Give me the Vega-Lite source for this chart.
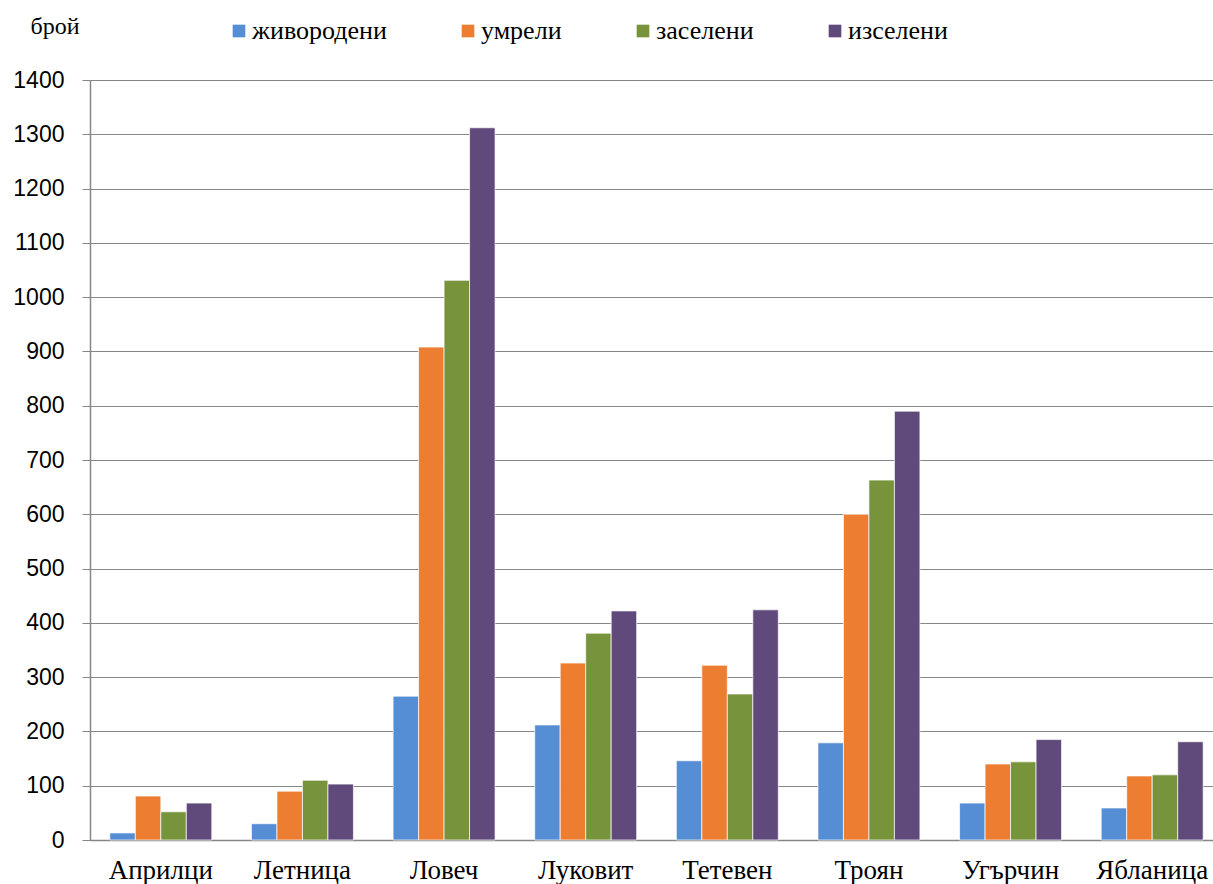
{
  "$schema": "https://vega.github.io/schema/vega-lite/v6.json",
  "width": 1123,
  "height": 760,
  "autosize": {"type": "none"},
  "padding": {"left": 90, "top": 80, "right": 0, "bottom": 44},
  "background": "white",
  "config": {"view": {"stroke": null}},
  "data": {
    "values": [
      {"town": "Априлци", "kind": "живородени", "n": 13},
      {"town": "Априлци", "kind": "умрели", "n": 81},
      {"town": "Априлци", "kind": "заселени", "n": 52},
      {"town": "Априлци", "kind": "изселени", "n": 68},
      {"town": "Летница", "kind": "живородени", "n": 30},
      {"town": "Летница", "kind": "умрели", "n": 90},
      {"town": "Летница", "kind": "заселени", "n": 110},
      {"town": "Летница", "kind": "изселени", "n": 103},
      {"town": "Ловеч", "kind": "живородени", "n": 265},
      {"town": "Ловеч", "kind": "умрели", "n": 908},
      {"town": "Ловеч", "kind": "заселени", "n": 1031},
      {"town": "Ловеч", "kind": "изселени", "n": 1312},
      {"town": "Луковит", "kind": "живородени", "n": 212},
      {"town": "Луковит", "kind": "умрели", "n": 326},
      {"town": "Луковит", "kind": "заселени", "n": 381},
      {"town": "Луковит", "kind": "изселени", "n": 422},
      {"town": "Тетевен", "kind": "живородени", "n": 146},
      {"town": "Тетевен", "kind": "умрели", "n": 322},
      {"town": "Тетевен", "kind": "заселени", "n": 269},
      {"town": "Тетевен", "kind": "изселени", "n": 424},
      {"town": "Троян", "kind": "живородени", "n": 179},
      {"town": "Троян", "kind": "умрели", "n": 600},
      {"town": "Троян", "kind": "заселени", "n": 663},
      {"town": "Троян", "kind": "изселени", "n": 790},
      {"town": "Угърчин", "kind": "живородени", "n": 68},
      {"town": "Угърчин", "kind": "умрели", "n": 140},
      {"town": "Угърчин", "kind": "заселени", "n": 144},
      {"town": "Угърчин", "kind": "изселени", "n": 185},
      {"town": "Ябланица", "kind": "живородени", "n": 59},
      {"town": "Ябланица", "kind": "умрели", "n": 118},
      {"town": "Ябланица", "kind": "заселени", "n": 120},
      {"town": "Ябланица", "kind": "изселени", "n": 181}
    ]
  },
  "mark": {"type": "bar", "stroke": "white", "strokeWidth": 0.7},
  "encoding": {
    "x": {
      "field": "town",
      "type": "nominal",
      "sort": null,
      "title": null,
      "scale": {"range": [0, 1133], "paddingInner": 0.28, "paddingOuter": 0.14},
      "axis": {
        "labelAngle": 0,
        "labelFont": "Liberation Serif, Times New Roman, serif",
        "labelFontSize": 27,
        "labelColor": "black",
        "labelPadding": 17,
        "ticks": false,
        "domainColor": "#868686",
        "domainWidth": 1.5
      }
    },
    "xOffset": {
      "field": "kind",
      "type": "nominal",
      "sort": ["живородени", "умрели", "заселени", "изселени"],
      "scale": {"paddingInner": 0, "paddingOuter": 0}
    },
    "y": {
      "field": "n",
      "type": "quantitative",
      "scale": {"domain": [0, 1400]},
      "title": "брой",
      "axis": {
        "values": [0, 100, 200, 300, 400, 500, 600, 700, 800, 900, 1000, 1100, 1200, 1300, 1400],
        "format": "d",
        "labelFont": "Liberation Sans, Arial, sans-serif",
        "labelFontSize": 23,
        "labelColor": "black",
        "labelPadding": 18,
        "tickSize": 8,
        "tickColor": "#868686",
        "domainColor": "#868686",
        "domainWidth": 1.5,
        "gridColor": "#868686",
        "gridWidth": 1.2,
        "titleAngle": 0,
        "titleFont": "Liberation Serif, Times New Roman, serif",
        "titleFontSize": 24,
        "titleFontWeight": "normal",
        "titleColor": "black",
        "titleAlign": "left",
        "titleBaseline": "middle",
        "titleX": -60,
        "titleY": -54
      }
    },
    "color": {
      "field": "kind",
      "type": "nominal",
      "title": null,
      "sort": ["живородени", "умрели", "заселени", "изселени"],
      "scale": {
        "domain": ["живородени", "умрели", "заселени", "изселени"],
        "range": ["#558ed5", "#ed7d31", "#77933c", "#604a7b"]
      },
      "legend": {
        "orient": "none",
        "direction": "horizontal",
        "legendX": 136,
        "legendY": -62,
        "symbolType": "square",
        "symbolSize": 160,
        "symbolStrokeWidth": 0,
        "labelFont": "Liberation Serif, Times New Roman, serif",
        "labelFontSize": 26,
        "labelColor": "black",
        "labelOffset": 0,
        "columnPadding": 68
      }
    }
  }
}
